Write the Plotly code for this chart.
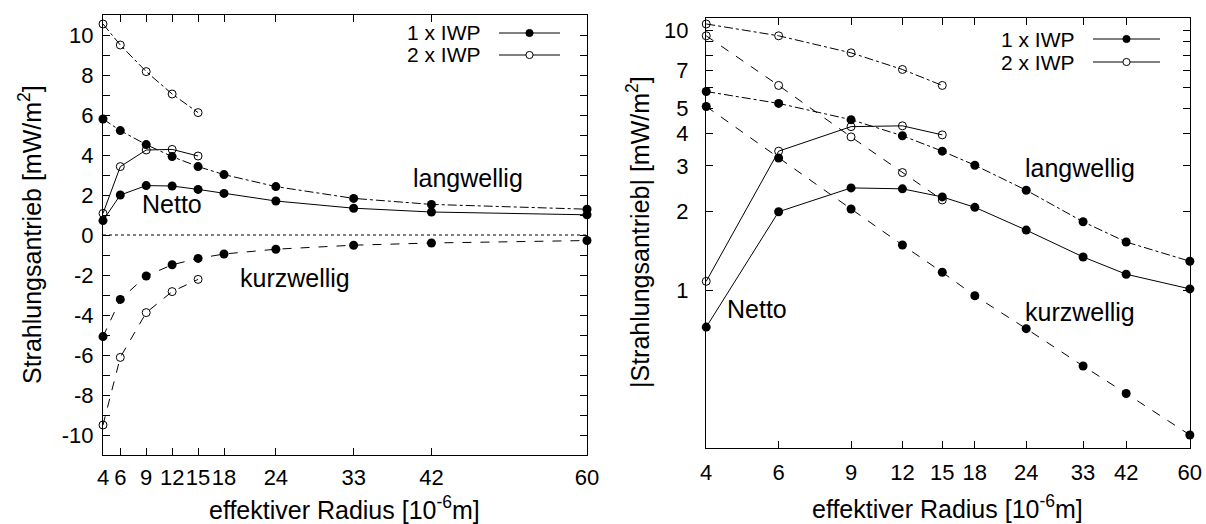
import math
import plotly.graph_objects as go

# Effective radius [10^-6 m]
radius = [4, 6, 9, 12, 15, 18, 24, 33, 42, 60]
radius_2x = [4, 6, 9, 12, 15]

# Radiative forcing [mW/m^2], single ice water path (1 x IWP)
lw_1x = [5.80, 5.22, 4.52, 3.92, 3.42, 3.02, 2.42, 1.83, 1.53, 1.29]
net_1x = [0.72, 2.00, 2.47, 2.45, 2.28, 2.08, 1.70, 1.34, 1.15, 1.01]
sw_1x = [-5.08, -3.22, -2.05, -1.49, -1.17, -0.95, -0.71, -0.51, -0.40, -0.277]

# Radiative forcing [mW/m^2], doubled ice water path (2 x IWP)
lw_2x = [10.55, 9.50, 8.17, 7.05, 6.12]
net_2x = [1.08, 3.42, 4.25, 4.28, 3.95]
sw_2x = [-9.50, -6.12, -3.88, -2.83, -2.22]

x_ticks = [4, 6, 9, 12, 15, 18, 24, 33, 42, 60]
left_y_ticks = [-10, -8, -6, -4, -2, 0, 2, 4, 6, 8, 10]
left_y_labels = ["-10", "-8", "-6", "-4", "-2", "0", "2", "4", "6", "8", "10"]
right_y_ticks = [1, 2, 3, 4, 5, 7, 10]
right_y_minor = [6, 8, 9]

W, H = 1206, 524
FONT = "Liberation Sans, Arial, Helvetica, sans-serif"
FS_TICK = 22
FS_LEGEND = 21
FS_TEXT = 25


def px(x):
    return x / W


def py(y):
    return 1 - y / H


fig = go.Figure()

series = [
    (radius, lw_1x, "dashdot", True),
    (radius, net_1x, "solid", True),
    (radius, sw_1x, "dash", True),
    (radius_2x, lw_2x, "dashdot", False),
    (radius_2x, net_2x, "solid", False),
    (radius_2x, sw_2x, "dash", False),
]


def marker(filled):
    if filled:
        return dict(symbol="circle", size=9, color="black", line=dict(width=0))
    return dict(symbol="circle-open", size=8, color="black", line=dict(width=1))


for xs, ys, dash, filled in series:
    # linear panel with signed values
    fig.add_trace(go.Scatter(
        x=xs, y=ys, mode="lines+markers", xaxis="x", yaxis="y",
        line=dict(color="black", width=1, dash=dash),
        marker=marker(filled), cliponaxis=False, showlegend=False,
    ))
    # logarithmic panel with absolute values
    fig.add_trace(go.Scatter(
        x=xs, y=[abs(v) for v in ys], mode="lines+markers", xaxis="x2", yaxis="y2",
        line=dict(color="black", width=1, dash=dash),
        marker=marker(filled), cliponaxis=False, showlegend=False,
    ))

axis_common = dict(
    showline=True, linecolor="black", linewidth=1, mirror="allticks",
    ticks="inside", ticklen=7, tickcolor="black", tickwidth=1,
    showgrid=False, zeroline=False, automargin=False, tickangle=0,
    tickfont=dict(family=FONT, size=FS_TICK, color="black"),
)

# log x range padded by a hair so the end markers are kept
log_x_range = [math.log10(3.995), math.log10(60.05)]

fig.update_layout(
    width=W, height=H, autosize=False,
    margin=dict(l=0, r=0, t=0, b=0, pad=0),
    paper_bgcolor="white", plot_bgcolor="white",
    font=dict(family=FONT, size=FS_TICK, color="black"),
    showlegend=False,
    xaxis=dict(
        domain=[px(103), px(587)], range=[4, 60], anchor="y",
        tickmode="array", tickvals=x_ticks, ticklabelstandoff=3, **axis_common,
    ),
    yaxis=dict(
        domain=[py(455), py(15)], range=[-11, 11], anchor="x",
        tickmode="array", tickvals=left_y_ticks, ticktext=left_y_labels,
        ticklabelstandoff=4,
        minor=dict(dtick=1, tick0=0, ticks="inside", ticklen=7, tickcolor="black"),
        **axis_common,
    ),
    xaxis2=dict(
        domain=[px(706), px(1190)], type="log", range=log_x_range, anchor="y2",
        tickmode="array", tickvals=x_ticks, ticklabelstandoff=5, **axis_common,
    ),
    yaxis2=dict(
        domain=[py(448), py(18)], type="log", range=[-0.6077, 1.0462], anchor="x2",
        tickmode="array", tickvals=right_y_ticks, ticklabelstandoff=12,
        minor=dict(tickmode="array", tickvals=right_y_minor, ticks="inside",
                   ticklen=7, tickcolor="black"),
        **axis_common,
    ),
)

# dotted zero line in the linear panel
fig.add_shape(type="line", xref="x", yref="y", x0=4, x1=60, y0=0, y1=0,
              line=dict(color="black", width=1, dash="dot"))

annotations = []


def label(text, x, y, size, xanchor="center", yanchor="middle", textangle=0):
    annotations.append(dict(
        text=text, x=px(x), y=py(y), xref="paper", yref="paper",
        xanchor=xanchor, yanchor=yanchor, showarrow=False, textangle=textangle,
        font=dict(family=FONT, size=size, color="black"),
    ))


# axis titles
label("Strahlungsantrieb [mW/m<sup>2</sup>]", 30, 235, FS_TEXT, textangle=-90)
label("|Strahlungsantrieb| [mW/m<sup>2</sup>]", 638, 232, FS_TEXT, textangle=-90)
label("effektiver Radius [10<sup>-6</sup>m]", 345, 508, FS_TEXT)
label("effektiver Radius [10<sup>-6</sup>m]", 947, 507, FS_TEXT)

# curve labels
label("Netto", 172, 204, FS_TEXT)
label("langwellig", 468, 178, FS_TEXT)
label("kurzwellig", 295, 278, FS_TEXT)
label("Netto", 757, 309, FS_TEXT)
label("langwellig", 1080, 168, FS_TEXT)
label("kurzwellig", 1080, 312, FS_TEXT)

# hand-built legends: text on the left, line sample with marker on the right
legend_pos = [
    (483, 499, 560, 33, 55),
    (1077, 1093, 1160, 39, 62),
]
for tx, lx0, lx1, y1, y2 in legend_pos:
    for yy, name, filled in [(y1, "1 x IWP", True), (y2, "2 x IWP", False)]:
        label(name, tx, yy, FS_LEGEND, xanchor="right")
        fig.add_shape(type="line", xref="paper", yref="paper",
                      x0=px(lx0), x1=px(lx1), y0=py(yy), y1=py(yy),
                      line=dict(color="black", width=1))
        cx = (lx0 + lx1) / 2
        r = 3.6
        fig.add_shape(type="circle", xref="paper", yref="paper",
                      x0=px(cx - r), x1=px(cx + r), y0=py(yy + r), y1=py(yy - r),
                      fillcolor="black" if filled else "white",
                      line=dict(color="black", width=1))

fig.update_layout(annotations=annotations)

fig.write_html("out.html", config={"responsive": False})
